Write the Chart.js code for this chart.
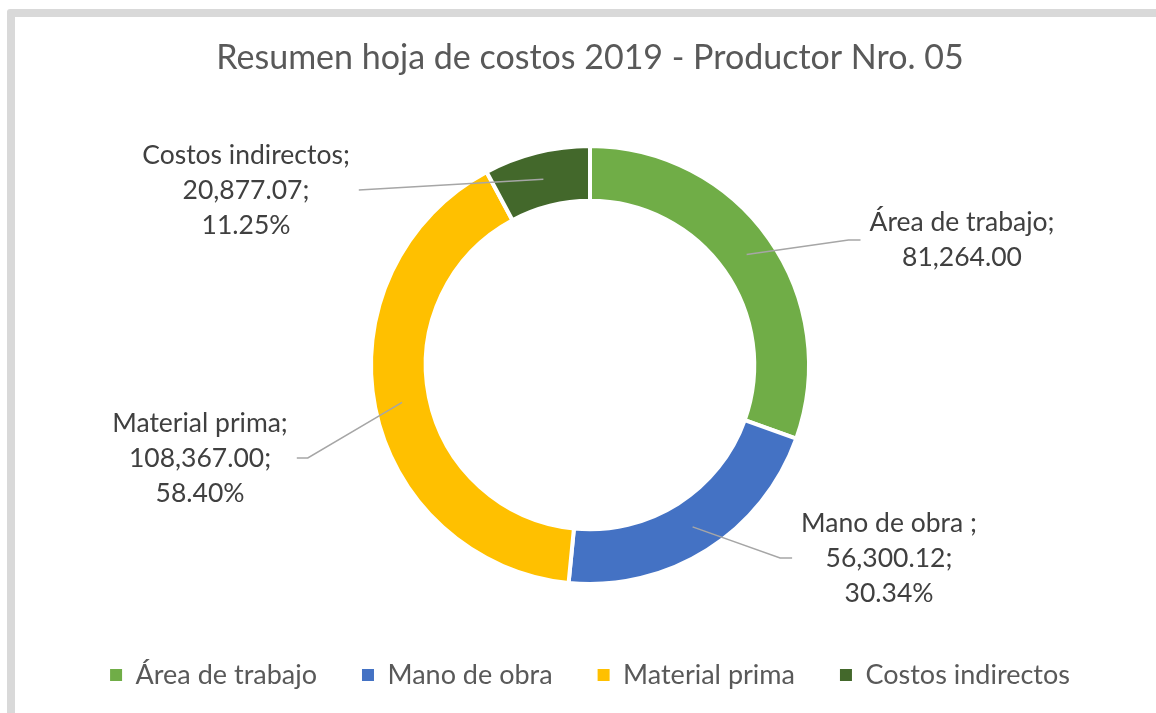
<!DOCTYPE html>
<html><head><meta charset="utf-8">
<script src="https://cdn.jsdelivr.net/npm/chart.js@4.4.1/dist/chart.umd.min.js"></script>
<style>
html,body{margin:0;padding:0;background:#fff;width:1156px;height:713px;overflow:hidden}
#frame{position:absolute;left:7px;top:9px;width:1200px;height:800px;border:8px solid #d9d9d9;border-radius:3px;box-sizing:border-box}
#wrap{position:absolute;left:0;top:0;width:1156px;height:713px}
</style></head><body>
<div id="frame"></div>
<div id="wrap"><canvas id="c" width="1156" height="713"></canvas></div>
<script>
// ---- data ----
const categories = ['Área de trabajo', 'Mano de obra', 'Material prima', 'Costos indirectos'];
const labelNames = ['Área de trabajo', 'Mano de obra ', 'Material prima', 'Costos indirectos'];
const values = [81264.00, 56300.12, 108367.00, 20877.07];
const percentLabels = [null, '30.34%', '58.40%', '11.25%'];
const colors = ['#70AD47', '#4472C4', '#FFC000', '#43682B'];
const chartTitle = 'Resumen hoja de costos 2019 - Productor Nro. 05';

const FONT = 'Lato, "Open Sans", sans-serif';

function fmt(v) {
  return v.toLocaleString('en-US', {minimumFractionDigits: 2, maximumFractionDigits: 2});
}

const sliceLabels = {
  id: 'sliceLabels',
  afterDatasetsDraw(chart, args, opts) {
    const ctx = chart.ctx;
    const meta = chart.getDatasetMeta(0);
    ctx.save();
    ctx.font = opts.font;
    ctx.textAlign = 'center';
    ctx.textBaseline = 'middle';
    meta.data.forEach((arc, i) => {
      const p = arc.getProps(['x', 'y', 'startAngle', 'endAngle', 'innerRadius', 'outerRadius'], true);
      const mid = (p.startAngle + p.endAngle) / 2;
      const r = (p.innerRadius + p.outerRadius) / 2;
      const ax = p.x + Math.cos(mid) * r, ay = p.y + Math.sin(mid) * r;
      const lines = [];
      const val = fmt(chart.data.datasets[0].data[i]);
      lines.push(labelNames[i] + ';');
      if (percentLabels[i]) { lines.push(val + ';'); lines.push(percentLabels[i]); }
      else lines.push(val);
      const pl = opts.place[i];
      const cx = p.x + pl.dx, cy = p.y + pl.dy;
      const w = Math.max(...lines.map(l => ctx.measureText(l).width));
      const side = pl.dx > 0 ? -1 : 1;
      const ex = cx + side * (w / 2 + opts.gap);
      const ey = cy;
      ctx.strokeStyle = opts.lineColor;
      ctx.lineWidth = 1.5;
      ctx.beginPath();
      ctx.moveTo(ax, ay);
      if (pl.elbow) ctx.lineTo(ex + side * pl.elbow, ey);
      ctx.lineTo(ex, ey);
      ctx.stroke();
      ctx.fillStyle = opts.color;
      const n = lines.length;
      lines.forEach((l, k) => ctx.fillText(l, cx, cy + (k - (n - 1) / 2) * opts.lineHeight));
    });
    ctx.restore();
  }
};

new Chart(document.getElementById('c'), {
  type: 'doughnut',
  data: {
    labels: categories,
    datasets: [{
      data: values,
      backgroundColor: colors,
      borderColor: '#ffffff',
      borderWidth: 4,
      hoverOffset: 0
    }]
  },
  options: {
    responsive: false,
    animation: false,
    devicePixelRatio: 1,
    radius: 219,
    cutout: '75%',
    rotation: 0,
    layout: {padding: {left: 24, right: 0, top: 0, bottom: 14.5}},
    plugins: {
      title: {
        display: true, text: chartTitle, color: '#595959',
        font: {family: FONT, size: 34, weight: 'normal', lineHeight: 1.2},
        padding: {top: 38, bottom: 34.7}
      },
      legend: {
        position: 'bottom',
        labels: {
          boxWidth: 12, boxHeight: 12, padding: 45, color: '#595959',
          font: {family: FONT, size: 27},
          generateLabels(chart) {
            const items = Chart.overrides.doughnut.plugins.legend.labels.generateLabels(chart);
            return items.map(it => Object.assign(it, {lineWidth: 0, strokeStyle: 'transparent'}));
          }
        }
      },
      tooltip: {enabled: false},
      sliceLabels: {
        font: '26.5px ' + FONT,
        color: '#404040',
        lineColor: '#a6a6a6',
        lineHeight: 35,
        gap: 9,
        place: [
          {dx: 372, dy: -125, elbow: 12},
          {dx: 299, dy: 193, elbow: 12},
          {dx: -390, dy: 93, elbow: 11},
          {dx: -344, dy: -175, elbow: 0}
        ]
      }
    }
  },
  plugins: [sliceLabels]
});
</script>
</body></html>
